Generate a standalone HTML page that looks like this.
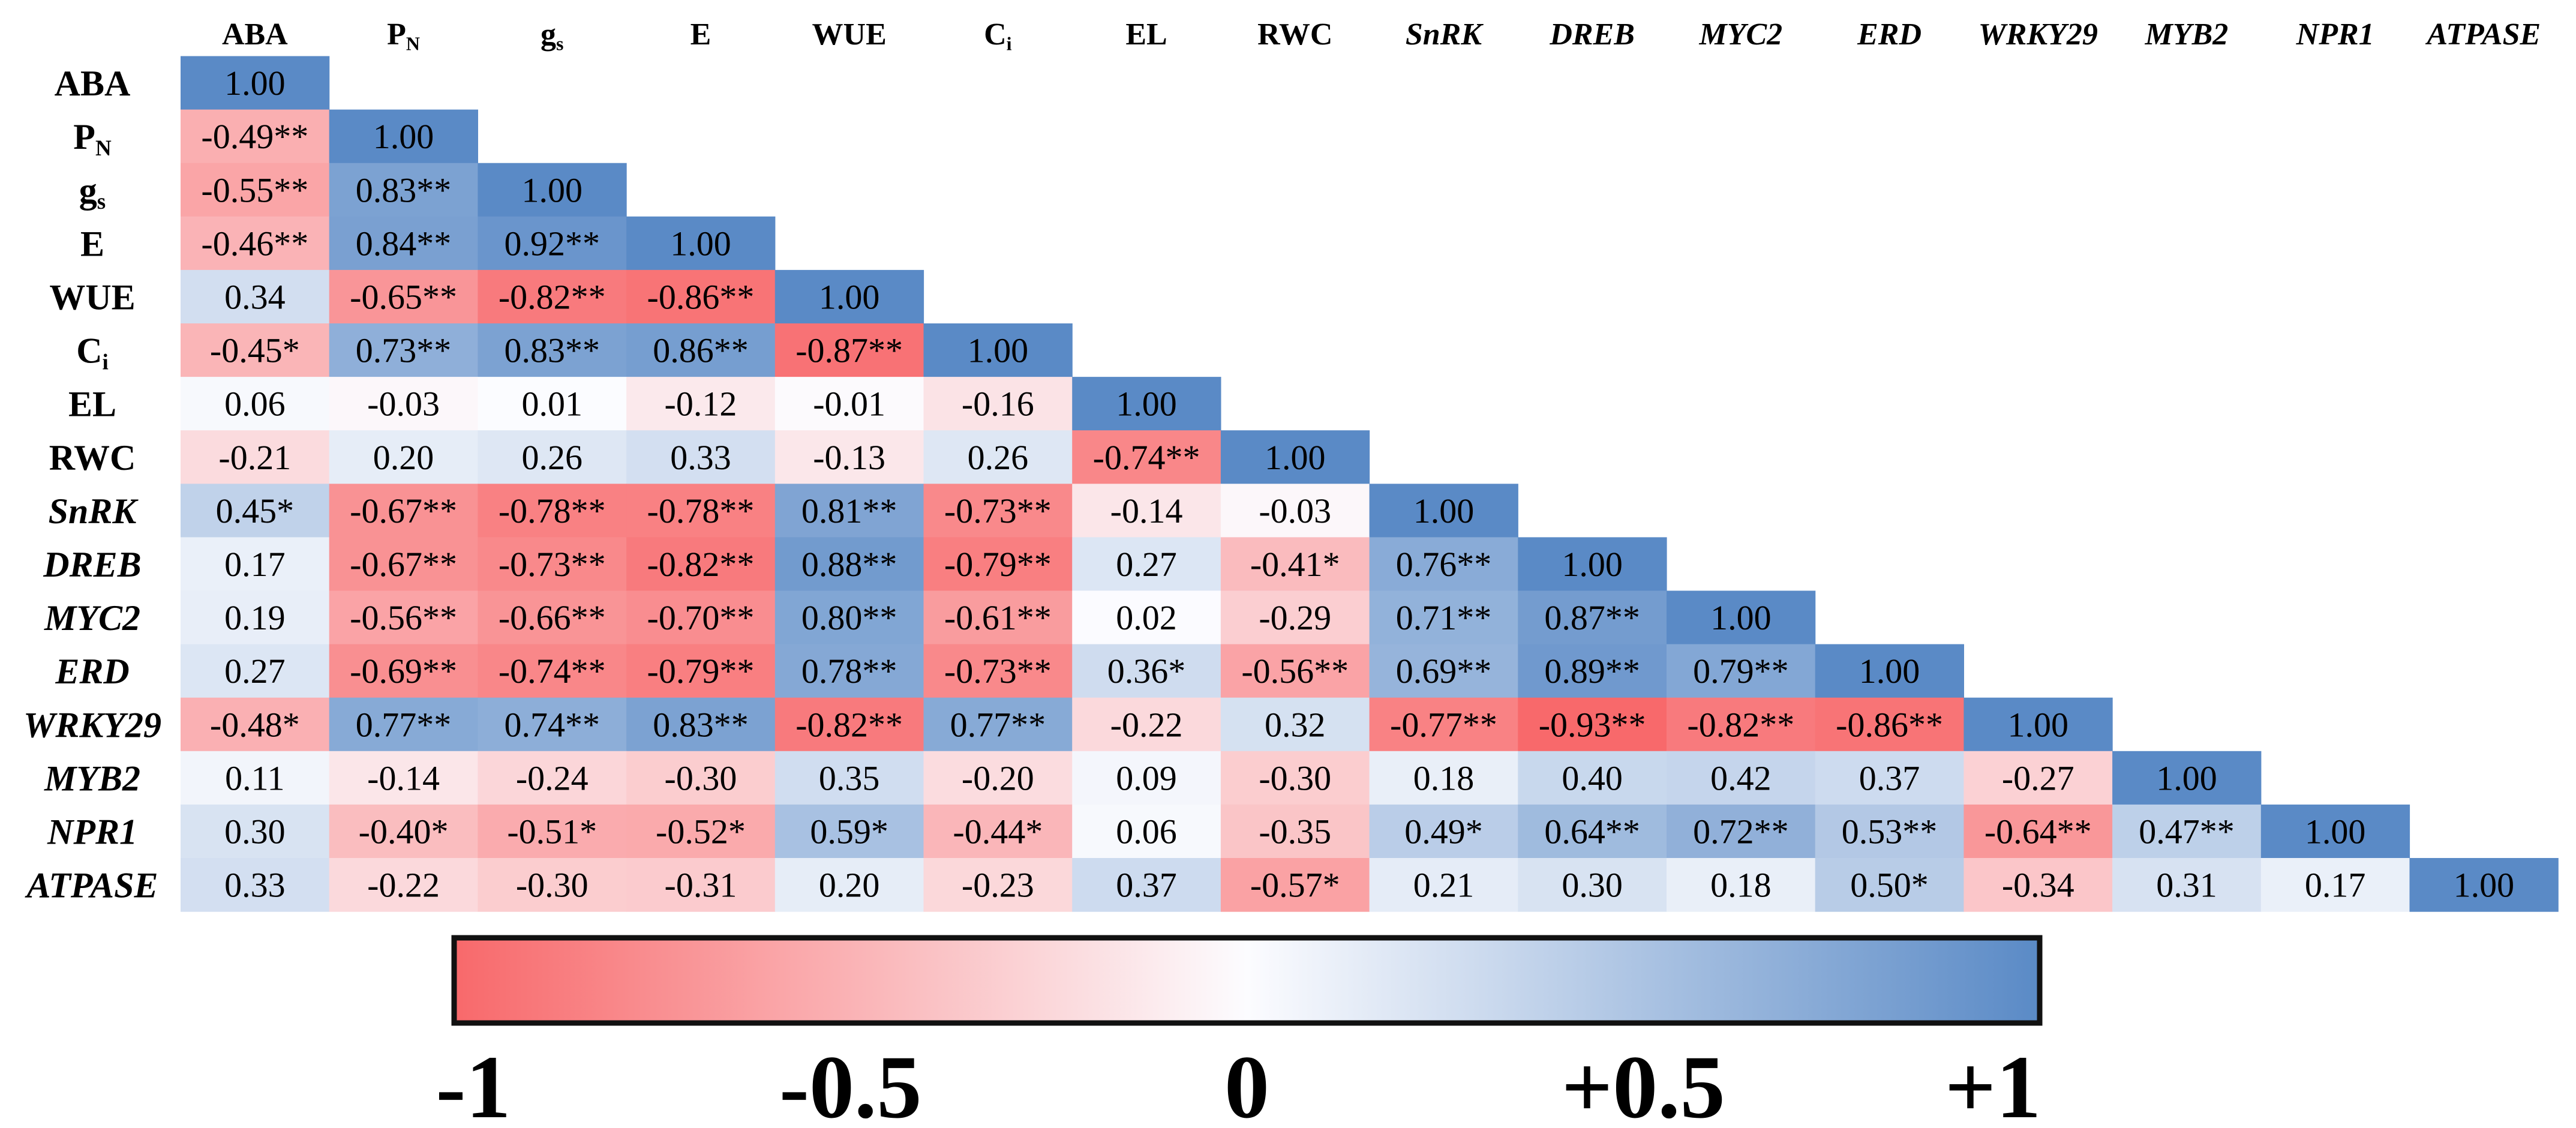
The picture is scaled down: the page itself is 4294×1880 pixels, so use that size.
<!DOCTYPE html>
<html><head><meta charset="utf-8"><style>
html,body{margin:0;padding:0;background:#fff;}
svg{display:block;}
</style></head><body>
<svg id="chart" width="4294" height="1880" viewBox="0 0 4294 1880" xmlns="http://www.w3.org/2000/svg">
<defs>
<linearGradient id="cbgrad" x1="0" x2="1" y1="0" y2="0">
<stop offset="0" stop-color="#F8696B"/>
<stop offset="0.5" stop-color="#FCFCFF"/>
<stop offset="1" stop-color="#5A8AC6"/>
</linearGradient>
</defs>
<g id="cells"></g>
<g id="collabels"></g>
<g id="rowlabels"></g>
<g id="colorbar">
<rect x="757" y="1563" width="2643" height="142" fill="url(#cbgrad)" stroke="#111" stroke-width="9"/>
</g>
<g id="cblabels" font-family="'Liberation Serif', serif" font-weight="bold" font-size="150" text-anchor="middle" fill="#000"></g>
</svg>
<script>
const variables = ["ABA","PN","gs","E","WUE","Ci","EL","RWC","SnRK","DREB","MYC2","ERD","WRKY29","MYB2","NPR1","ATPASE"];
const italicVars = ["SnRK","DREB","MYC2","ERD","WRKY29","MYB2","NPR1","ATPASE"];
const corrValues = [
[1.00],
[-0.49,1.00],
[-0.55,0.83,1.00],
[-0.46,0.84,0.92,1.00],
[0.34,-0.65,-0.82,-0.86,1.00],
[-0.45,0.73,0.83,0.86,-0.87,1.00],
[0.06,-0.03,0.01,-0.12,-0.01,-0.16,1.00],
[-0.21,0.20,0.26,0.33,-0.13,0.26,-0.74,1.00],
[0.45,-0.67,-0.78,-0.78,0.81,-0.73,-0.14,-0.03,1.00],
[0.17,-0.67,-0.73,-0.82,0.88,-0.79,0.27,-0.41,0.76,1.00],
[0.19,-0.56,-0.66,-0.70,0.80,-0.61,0.02,-0.29,0.71,0.87,1.00],
[0.27,-0.69,-0.74,-0.79,0.78,-0.73,0.36,-0.56,0.69,0.89,0.79,1.00],
[-0.48,0.77,0.74,0.83,-0.82,0.77,-0.22,0.32,-0.77,-0.93,-0.82,-0.86,1.00],
[0.11,-0.14,-0.24,-0.30,0.35,-0.20,0.09,-0.30,0.18,0.40,0.42,0.37,-0.27,1.00],
[0.30,-0.40,-0.51,-0.52,0.59,-0.44,0.06,-0.35,0.49,0.64,0.72,0.53,-0.64,0.47,1.00],
[0.33,-0.22,-0.30,-0.31,0.20,-0.23,0.37,-0.57,0.21,0.30,0.18,0.50,-0.34,0.31,0.17,1.00]
];
const significance = [
[""],
["**",""],
["**","**",""],
["**","**","**",""],
["","**","**","**",""],
["*","**","**","**","**",""],
["","","","","","",""],
["","","","","","","**",""],
["*","**","**","**","**","**","","",""],
["","**","**","**","**","**","","*","**",""],
["","**","**","**","**","**","","","**","**",""],
["","**","**","**","**","**","*","**","**","**","**",""],
["*","**","**","**","**","**","","","**","**","**","**",""],
["","","","","","","","","","","","","",""],
["","*","*","*","*","*","","","*","**","**","**","**","**",""],
["","","","","","","","*","","","","*","","","",""]
];
const scaleTicks = [-1,-0.5,0,0.5,1];
const scaleTickLabels = ["-1","-0.5","0","+0.5","+1"];

const NS = "http://www.w3.org/2000/svg";
const gridX0 = 301, gridY0 = 93.5, cellW = 247.7, cellH = 89.1;
const colX = i => gridX0 + i*cellW;
const rowY = i => gridY0 + i*cellH;
const cbX0 = 757, cbW = 2643;
const scaleX = v => cbX0 + (v+1)/2*cbW;

function mix(a,b,t){return a.map((c,i)=>Math.round(c+(b[i]-c)*t));}
const RED=[248,105,107], WHITE=[252,252,255], BLUE=[90,138,198];
const minV = -0.93;
function color(v){
  let c = v<0 ? mix(WHITE,RED,Math.min(1,v/minV)) : mix(WHITE,BLUE,Math.pow(Math.min(1,v),1.25));
  return "rgb("+c.join(",")+")";
}
function fmt(v){return (v<0?"-":"")+Math.abs(v).toFixed(2);}

const cells = document.getElementById("cells");
corrValues.forEach((row,r)=>{
  row.forEach((v,c)=>{
    const rect = document.createElementNS(NS,"rect");
    rect.setAttribute("x",colX(c)); rect.setAttribute("y",rowY(r));
    rect.setAttribute("width",cellW+0.6); rect.setAttribute("height",cellH+0.6);
    rect.setAttribute("fill",color(v));
    
    
    cells.appendChild(rect);
    const t = document.createElementNS(NS,"text");
    t.setAttribute("x",colX(c)+cellW/2); t.setAttribute("y",rowY(r)+cellH/2+20);
    t.setAttribute("text-anchor","middle");
    t.setAttribute("font-family","'Liberation Serif', serif");
    t.setAttribute("font-size","58");
    t.textContent = fmt(v)+significance[r][c];
    
    
    cells.appendChild(t);
  });
});

function labelContent(t,name,size){
  const subs = {PN:["P","N"],gs:["g","s"],Ci:["C","i"]};
  if(subs[name]){
    const a=document.createElementNS(NS,"tspan"); a.textContent=subs[name][0];
    const b=document.createElementNS(NS,"tspan"); b.textContent=subs[name][1];
    b.setAttribute("font-size",Math.round(size*0.62)); b.setAttribute("dy",size*0.18);
    t.appendChild(a); t.appendChild(b);
  } else t.textContent = name;
  if(italicVars.includes(name)) t.setAttribute("font-style","italic");
}
const cl = document.getElementById("collabels");
variables.forEach((n,i)=>{
  const t=document.createElementNS(NS,"text");
  t.setAttribute("x",colX(i)+cellW/2); t.setAttribute("y",74);
  t.setAttribute("text-anchor","middle");
  t.setAttribute("font-family","'Liberation Serif', serif");
  t.setAttribute("font-weight","bold"); t.setAttribute("font-size","52");
  labelContent(t,n,52);
  
  
  cl.appendChild(t);
});
const rl = document.getElementById("rowlabels");
variables.forEach((n,i)=>{
  const t=document.createElementNS(NS,"text");
  t.setAttribute("x",154); t.setAttribute("y",rowY(i)+cellH/2+21);
  t.setAttribute("text-anchor","middle");
  t.setAttribute("font-family","'Liberation Serif', serif");
  t.setAttribute("font-weight","bold"); t.setAttribute("font-size","60");
  labelContent(t,n,60);
  
  
  rl.appendChild(t);
});
const cbl = document.getElementById("cblabels");
scaleTicks.forEach((v,i)=>{
  const t=document.createElementNS(NS,"text");
  t.setAttribute("x",scaleX(v)+ (i===0?32:(i===4?-78:0)));
  t.setAttribute("y",1862);
  t.textContent = scaleTickLabels[i];
  
  
  cbl.appendChild(t);
});
</script>
</body></html>
